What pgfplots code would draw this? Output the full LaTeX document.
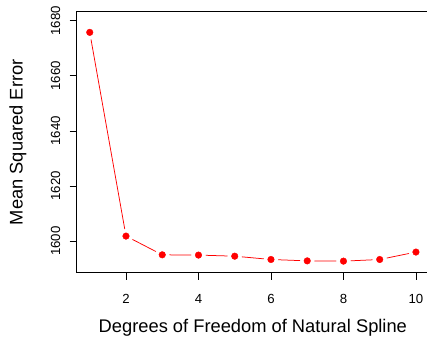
\documentclass[border=0pt]{standalone}
\usepackage{pgfplots}
\pgfplotsset{compat=1.18}
\usepackage{fontspec}
\setmainfont{Liberation Sans}

\begin{document}
\begin{tikzpicture}
\begin{axis}[
  name=ax,
  at={(0,0)}, anchor=south west,
  scale only axis,
  width=352.3pt, height=261pt,
  xmin=0.64, xmax=10.36,
  ymin=1588.5, ymax=1683.3,
  xtick={2,4,6,8,10},
  ytick={1600,1620,1640,1660,1680},
  xtick pos=bottom, ytick pos=left,
  tick align=outside,
  major tick length=7pt,
  axis line style={line width=0.8pt, black},
  every tick/.style={black, line width=0.8pt},
  /pgf/number format/assume math mode=true,
  /pgf/number format/1000 sep={},
  tick label style={font=\fontsize{13.2}{15}\selectfont},
  xticklabel style={anchor=center, yshift=-19.3pt},
  yticklabel style={xshift=-14pt, rotate=90, anchor=center},
  xlabel={Degrees of Freedom of Natural Spline},
  ylabel={Mean Squared Error},
  label style={font=\fontsize{18.3}{21}\selectfont},
  xlabel style={at={(axis description cs:0.5,0)}, anchor=center, yshift=-55.3pt},
  ylabel style={at={(axis description cs:-0.1666,0.5)}, anchor=center},
  clip=false,
]
% test MSE by spline degrees of freedom
\addplot[red, line width=0.75pt, mark=none] coordinates {
  (1,1675.8) (2,1601.8) (3,1595.0) (4,1594.9) (5,1594.5)
  (6,1593.3) (7,1592.8) (8,1592.7) (9,1593.3) (10,1596.0)
};
% white halos leave gaps in the line around each point
\addplot[white, only marks, mark=*, mark size=7pt, mark options={fill=white, draw=none}] coordinates {
  (1,1675.8) (2,1601.8) (3,1595.0) (4,1594.9) (5,1594.5)
  (6,1593.3) (7,1592.8) (8,1592.7) (9,1593.3) (10,1596.0)
};
\addplot[red, only marks, mark=*, mark size=3.3pt, mark options={fill=red, draw=none}] coordinates {
  (1,1675.8) (2,1601.8) (3,1595.0) (4,1594.9) (5,1594.5)
  (6,1593.3) (7,1592.8) (8,1592.7) (9,1593.3) (10,1596.0)
};
\end{axis}
\pgfresetboundingbox
\useasboundingbox (-76.7pt,-65.3pt) rectangle (350.3pt,272.7pt);
\end{tikzpicture}
\end{document}
